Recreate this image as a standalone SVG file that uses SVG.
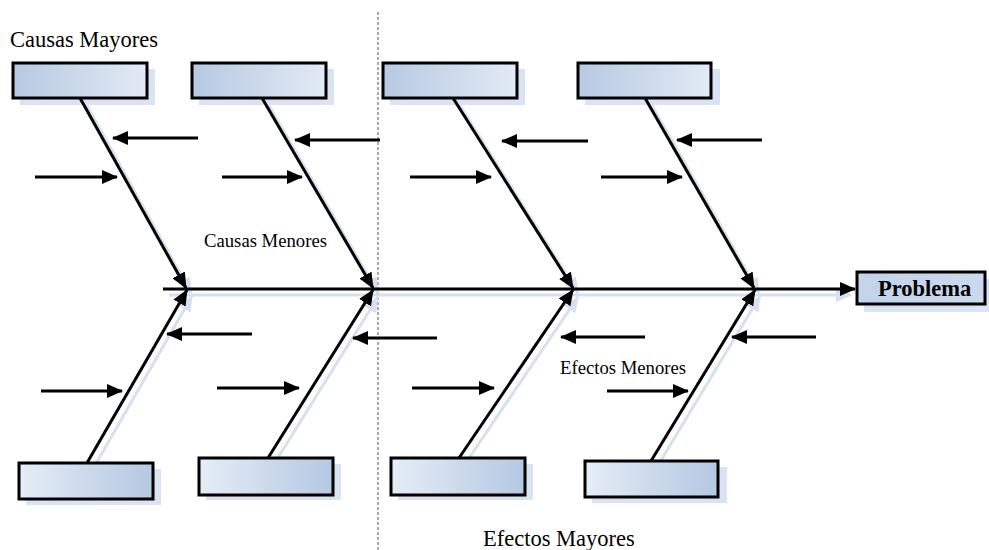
<svg xmlns="http://www.w3.org/2000/svg" width="989" height="550" viewBox="0 0 989 550">
  <defs>
    <linearGradient id="gTop" x1="0" y1="0" x2="1" y2="0">
      <stop offset="0" stop-color="#b7cae3"/>
      <stop offset="1" stop-color="#e3eaf5"/>
    </linearGradient>
    <linearGradient id="gBot" x1="0" y1="0" x2="1" y2="0">
      <stop offset="0" stop-color="#e6edf7"/>
      <stop offset="1" stop-color="#b5c8e2"/>
    </linearGradient>
    <linearGradient id="gProb" x1="0" y1="0" x2="1" y2="0">
      <stop offset="0" stop-color="#c3d3ea"/>
      <stop offset="1" stop-color="#cbd9ee"/>
    </linearGradient>
    <marker id="ah" markerUnits="userSpaceOnUse" markerWidth="16" markerHeight="14" viewBox="0 0 16 14" refX="15" refY="7" orient="auto">
      <path d="M0,0 L16,7 L0,14 Z" fill="#000"/>
    </marker>
    <marker id="ahs" markerUnits="userSpaceOnUse" markerWidth="16" markerHeight="14" viewBox="0 0 16 14" refX="15" refY="7" orient="auto">
      <path d="M0,0 L16,7 L0,14 Z" fill="#d5e0f1"/>
    </marker>
  </defs>
  <style>
    .box { stroke: #000; stroke-width: 3; }
    .shadow { fill: #d9e3f2; }
    .ln { stroke: #000; stroke-width: 3; fill: none; marker-end: url(#ah); }
    .sh { stroke: #d5e0f1; stroke-width: 3; fill: none; marker-end: url(#ahs); }
    .big { font-family: "Liberation Serif", "Times New Roman", serif; font-size: 22.5px; fill: #000; }
    .small { font-family: "Liberation Serif", "Times New Roman", serif; font-size: 18.7px; fill: #000; }
    .head { font-family: "Liberation Serif", "Times New Roman", serif; font-size: 22.5px; font-weight: bold; fill: #000; }
    .dash { stroke: #555; stroke-width: 1; stroke-dasharray: 3 2; }
  </style>

  <rect width="989" height="550" fill="#fff"/>

  <!-- divider -->
  <line class="dash" x1="378" y1="12" x2="378" y2="550"/>

  <!-- shadows of spine and bones -->
  <g id="bone-shadows">
    <line class="sh" x1="169" y1="295" x2="851" y2="295"/>
    <line class="sh" x1="86" y1="104" x2="191" y2="293"/>
    <line class="sh" x1="268" y1="104" x2="378" y2="293"/>
    <line class="sh" x1="459" y1="104" x2="578" y2="293"/>
    <line class="sh" x1="651" y1="104" x2="759" y2="293"/>
    <line class="sh" x1="93" y1="469" x2="192" y2="296"/>
    <line class="sh" x1="274" y1="464" x2="378" y2="297"/>
    <line class="sh" x1="465" y1="464" x2="578" y2="297"/>
    <line class="sh" x1="657" y1="467" x2="760" y2="296"/>
  </g>

  <!-- top boxes: major causes -->
  <g id="cause1">
    <rect class="shadow" x="20" y="69" width="135" height="36"/>
    <rect class="box" x="13" y="63" width="134" height="35" fill="url(#gTop)"/>
  </g>
  <g id="cause2">
    <rect class="shadow" x="199" y="69" width="135" height="36"/>
    <rect class="box" x="192" y="63" width="134" height="35" fill="url(#gTop)"/>
  </g>
  <g id="cause3">
    <rect class="shadow" x="390" y="69" width="135" height="36"/>
    <rect class="box" x="383" y="63" width="134" height="35" fill="url(#gTop)"/>
  </g>
  <g id="cause4">
    <rect class="shadow" x="585" y="69" width="135" height="36"/>
    <rect class="box" x="578" y="63" width="133" height="35" fill="url(#gTop)"/>
  </g>

  <!-- bottom boxes: major effects -->
  <g id="effect1">
    <rect class="shadow" x="26" y="469" width="135" height="36"/>
    <rect class="box" x="19" y="463" width="134" height="36" fill="url(#gBot)"/>
  </g>
  <g id="effect2">
    <rect class="shadow" x="206" y="464" width="135" height="36"/>
    <rect class="box" x="199" y="458" width="134" height="37" fill="url(#gBot)"/>
  </g>
  <g id="effect3">
    <rect class="shadow" x="398" y="464" width="135" height="36"/>
    <rect class="box" x="391" y="458" width="134" height="37" fill="url(#gBot)"/>
  </g>
  <g id="effect4">
    <rect class="shadow" x="592" y="467" width="135" height="36"/>
    <rect class="box" x="585" y="461" width="133" height="36" fill="url(#gBot)"/>
  </g>

  <!-- problem head -->
  <g id="problema">
    <rect class="shadow" x="864" y="279" width="125" height="33"/>
    <rect class="box" x="857" y="272" width="128" height="32" fill="url(#gProb)"/>
    <text class="head" x="878" y="296">Problema</text>
  </g>

  <!-- connectors -->
  <g id="connectors">
    <!-- spine -->
    <line class="ln" x1="163" y1="289" x2="855" y2="289"/>
    <!-- upper bones -->
    <line class="ln" x1="80" y1="98" x2="186" y2="288"/>
    <line class="ln" x1="262" y1="98" x2="373" y2="288"/>
    <line class="ln" x1="453" y1="98" x2="573" y2="288"/>
    <line class="ln" x1="645" y1="98" x2="754" y2="288"/>
    <!-- lower bones -->
    <line class="ln" x1="87" y1="463" x2="187" y2="290"/>
    <line class="ln" x1="268" y1="458" x2="373" y2="290"/>
    <line class="ln" x1="459" y1="458" x2="573" y2="290"/>
    <line class="ln" x1="651" y1="461" x2="755" y2="290"/>

    <!-- minor causes -->
    <line class="ln" x1="198" y1="138" x2="113" y2="138"/>
    <line class="ln" x1="35" y1="177" x2="117" y2="177"/>
    <line class="ln" x1="380" y1="140" x2="295" y2="140"/>
    <line class="ln" x1="222" y1="177" x2="302" y2="177"/>
    <line class="ln" x1="588" y1="141" x2="502" y2="141"/>
    <line class="ln" x1="410" y1="177" x2="491" y2="177"/>
    <line class="ln" x1="762" y1="140" x2="677" y2="140"/>
    <line class="ln" x1="601" y1="177" x2="682" y2="177"/>

    <!-- minor effects -->
    <line class="ln" x1="252" y1="334" x2="167" y2="334"/>
    <line class="ln" x1="41" y1="391" x2="122" y2="391"/>
    <line class="ln" x1="437" y1="338" x2="353" y2="338"/>
    <line class="ln" x1="217" y1="388" x2="299" y2="388"/>
    <line class="ln" x1="645" y1="337" x2="561" y2="337"/>
    <line class="ln" x1="412" y1="388" x2="494" y2="388"/>
    <line class="ln" x1="816" y1="337" x2="732" y2="337"/>
    <line class="ln" x1="607" y1="391" x2="688" y2="391"/>
  </g>

  <!-- labels -->
  <text class="big" x="10" y="47">Causas Mayores</text>
  <text class="small" x="204" y="247">Causas Menores</text>
  <text class="small" x="560" y="374">Efectos Menores</text>
  <text class="big" x="483" y="546">Efectos Mayores</text>
</svg>
